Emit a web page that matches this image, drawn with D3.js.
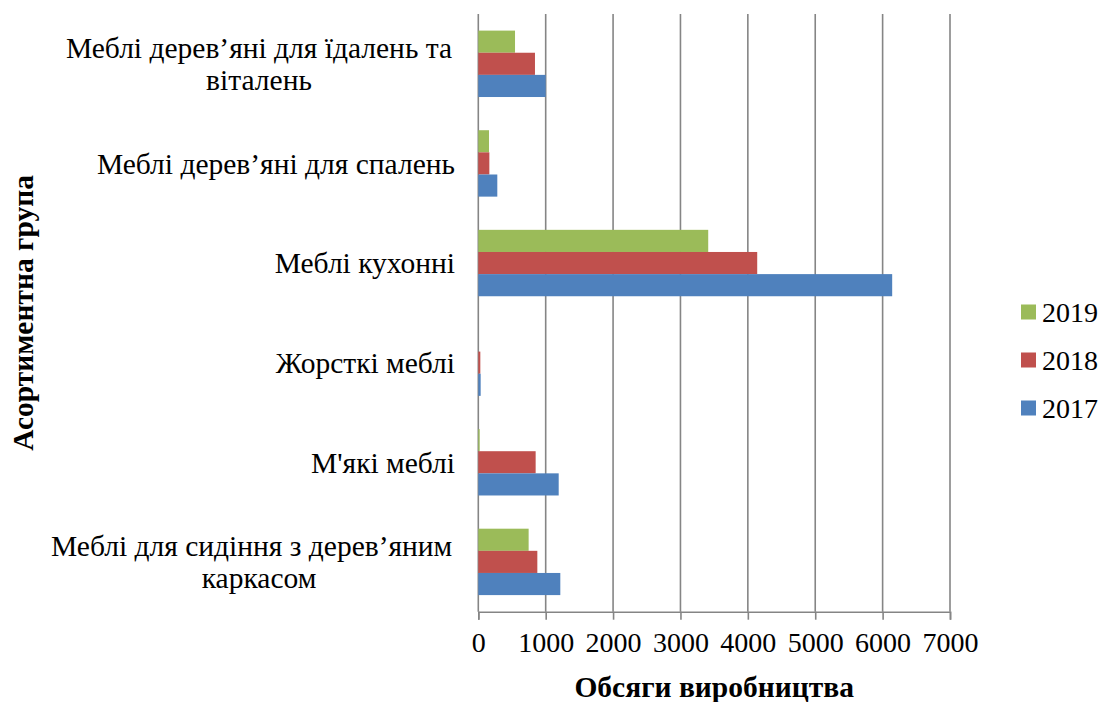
<!DOCTYPE html>
<html>
<head>
<meta charset="utf-8">
<script src="https://cdn.jsdelivr.net/npm/d3@7"></script>
<style>
  html, body { margin: 0; padding: 0; background: #fff; }
  svg text { font-family: "Liberation Serif", "Times New Roman", serif; fill: #000; }
</style>
</head>
<body>
<svg id="chart" width="1104" height="702"></svg>
<script>
// Product groups, top to bottom; each label is split into its display lines
const categories = [
  ["Меблі дерев’яні для їдалень та", "віталень"],
  ["Меблі дерев’яні для спалень"],
  ["Меблі кухонні"],
  ["Жорсткі меблі"],
  ["М'які меблі"],
  ["Меблі для сидіння з дерев’яним\u00a0\u00a0", "каркасом"]
];
const years = ["2019", "2018", "2017"];
const values2019 = [545, 159, 3412, 0, 20, 747];
const values2018 = [841, 164, 4139, 30, 851, 876];
const values2017 = [1000, 282, 6142, 35, 1193, 1217];
const xTicks = [0, 1000, 2000, 3000, 4000, 5000, 6000, 7000];
const colors = ["#9BBB59", "#C0504D", "#4F81BD"];

const seriesByYear = { "2019": values2019, "2018": values2018, "2017": values2017 };
const rows = categories.map((lines, i) => ({
  key: lines.join(" "),
  lines,
  bars: years.map(y => ({ year: y, value: seriesByYear[y][i] }))
}));

const svg = d3.select("#chart");
const plot = { left: 478.3, right: 950, top: 14, bottom: 611.7 };

const x = d3.scaleLinear().domain([0, 7000]).range([plot.left, plot.right]);
const y = d3.scaleBand()
  .domain(rows.map(r => r.key))
  .range([plot.top, plot.bottom])
  .paddingInner(1 / 3)
  .paddingOuter(1 / 6);
const yInner = d3.scaleBand().domain(years).range([0, y.bandwidth()]);
const color = d3.scaleOrdinal().domain(years).range(colors);

// Vertical gridlines
svg.append("g")
  .selectAll("line")
  .data(xTicks)
  .join("line")
  .attr("x1", d => x(d)).attr("x2", d => x(d))
  .attr("y1", plot.top).attr("y2", plot.bottom)
  .attr("stroke", "#858585")
  .attr("stroke-width", 1.6);

// Bars
const groups = svg.append("g")
  .selectAll("g")
  .data(rows)
  .join("g")
  .attr("transform", d => `translate(0,${y(d.key)})`);

groups.selectAll("rect")
  .data(d => d.bars)
  .join("rect")
  .attr("x", x(0))
  .attr("y", d => yInner(d.year))
  .attr("width", d => x(d.value) - x(0))
  .attr("height", yInner.bandwidth())
  .attr("fill", d => color(d.year));

// Bottom axis
const xAxis = d3.axisBottom(x).tickValues(xTicks).tickSize(8).tickPadding(12).tickFormat(d3.format("d"));
const gx = svg.append("g")
  .attr("transform", `translate(0,${plot.bottom})`)
  .call(xAxis);
gx.select(".domain").attr("stroke", "#858585").attr("stroke-width", 1.6);
gx.selectAll(".tick line").attr("stroke", "#858585").attr("stroke-width", 1.6);
gx.selectAll(".tick text")
  .attr("font-size", 28)
  .attr("fill", "#000")
  .attr("dy", "0.71em");

// Category labels
const labelFont = 29.5;
const lineH = 32;
const labels = svg.append("g")
  .selectAll("text")
  .data(rows)
  .join("text")
  .attr("font-size", labelFont)
  .attr("xml:space", "preserve")
  .attr("text-anchor", d => d.lines.length > 1 ? "middle" : "end")
  .attr("transform", d => {
    const cy = y(d.key) + y.bandwidth() / 2;
    const tx = d.lines.length > 1 ? 259 : 455;
    return `translate(${tx},${cy})`;
  });
labels.selectAll("tspan")
  .data(d => d.lines.map((t, i) => ({ t, i, n: d.lines.length })))
  .join("tspan")
  .attr("x", 0)
  .attr("y", d => (d.i - (d.n - 1) / 2) * lineH)
  .attr("dy", "0.35em")
  .text(d => d.t);

// Axis titles
svg.append("text")
  .attr("x", (plot.left + plot.right) / 2)
  .attr("y", 697)
  .attr("text-anchor", "middle")
  .attr("font-size", 29.5)
  .attr("font-weight", "bold")
  .text("Обсяги виробництва");

svg.append("text")
  .attr("transform", `translate(33,${(plot.top + plot.bottom) / 2}) rotate(-90)`)
  .attr("text-anchor", "middle")
  .attr("font-size", 29.5)
  .attr("font-weight", "bold")
  .text("Асортиментна група");

// Legend
const legend = svg.append("g")
  .selectAll("g")
  .data(years)
  .join("g")
  .attr("transform", (d, i) => `translate(1021,${312 + i * 48})`);
legend.append("rect")
  .attr("x", 0).attr("y", -7.5)
  .attr("width", 15).attr("height", 15)
  .attr("fill", d => color(d));
legend.append("text")
  .attr("x", 21)
  .attr("dy", "0.35em")
  .attr("font-size", 28)
  .text(d => d);
</script>
</body>
</html>
